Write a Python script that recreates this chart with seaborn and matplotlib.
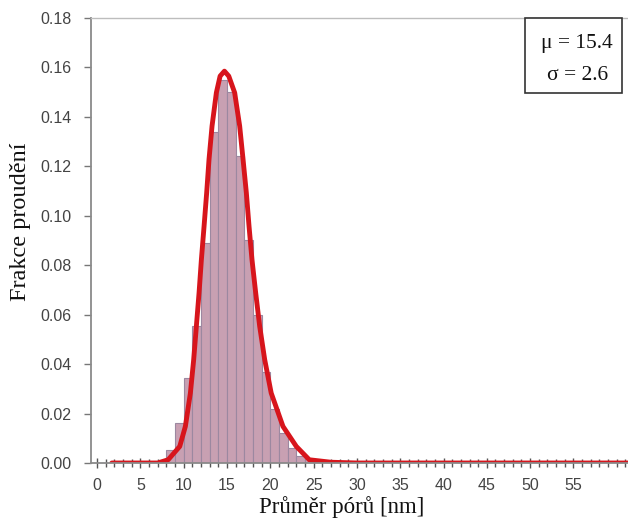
import numpy as np
import pandas as pd
import matplotlib
matplotlib.use("Agg")
import matplotlib.pyplot as plt
import seaborn as sns
from matplotlib.patches import Rectangle
from matplotlib.ticker import MultipleLocator

# ---- data ----
# histogram bins (left edge of each 1 nm bin) and flow fraction
bin_left = [8, 9, 10, 11, 12, 13, 14, 15, 16, 17, 18, 19, 20, 21, 22, 23, 24, 25, 26, 27]
fractions = [0.0054, 0.0162, 0.0344, 0.0553, 0.089, 0.134, 0.155, 0.150, 0.124, 0.090,
             0.060, 0.037, 0.022, 0.012, 0.006, 0.003, 0.0015, 0.0008, 0.0004, 0.0003]

# fitted distribution curve
fit_x = [1.7, 7.0, 8.2, 9.54, 10.19, 10.77, 11.15, 11.46, 11.77, 12.04, 12.35, 12.65,
         12.92, 13.27, 13.77, 14.2, 14.7, 15.2, 15.88, 16.46, 16.85, 17.23, 17.54, 17.88,
         18.31, 18.77, 19.35, 20.1, 21.46, 23.0, 24.5, 27.0, 30.0, 61.3]
fit_y = [0.0, 0.0, 0.0013, 0.0067, 0.0148, 0.0283, 0.0418, 0.0553, 0.0688, 0.0823,
         0.0958, 0.1093, 0.1228, 0.1363, 0.1498, 0.1565, 0.1585, 0.1565, 0.1498, 0.1363,
         0.1228, 0.1093, 0.0958, 0.0823, 0.0688, 0.0553, 0.0418, 0.0283, 0.0148, 0.0067,
         0.0013, 0.0003, 0.0, 0.0]

y_ticks = [0.00, 0.02, 0.04, 0.06, 0.08, 0.10, 0.12, 0.14, 0.16, 0.18]
x_ticks = [0, 5, 10, 15, 20, 25, 30, 35, 40, 45, 50, 55]
stats_text = ["\u03bc = 15.4", "\u03c3 = 2.6"]
xlabel = "Průměr pórů [nm]"
ylabel = "Frakce proudění"

# ---- style ----
sns.set_theme(style="white")
plt.rcParams["font.family"] = ["Liberation Sans", "DejaVu Sans"]
serif = ["Liberation Serif", "DejaVu Serif"]

fig = plt.figure(figsize=(6.28, 5.26), dpi=100)
ax = fig.add_axes([0.145, 0.1198, 0.855, 0.846])

centers = np.array(bin_left, dtype=float) + 0.5
df_bars = pd.DataFrame({"d": centers, "f": fractions})
sns.histplot(data=df_bars, x="d", weights="f", binwidth=1.0,
             binrange=(bin_left[0], bin_left[-1] + 1), stat="count",
             element="bars", fill=True, color="#c8a0b2", alpha=1.0,
             edgecolor="#9c88a0", linewidth=0.8, shrink=1.0, ax=ax)

df_fit = pd.DataFrame({"x": fit_x, "y": fit_y})
sns.lineplot(data=df_fit, x="x", y="y", color="#d7151c", linewidth=3.5, ax=ax,
             solid_capstyle="round", solid_joinstyle="round")

ax.set_xlim(-0.7, 61.3)
ax.set_ylim(0, 0.18)
ax.set_xticks(x_ticks)
ax.set_xticklabels([str(t) for t in x_ticks])
ax.xaxis.set_minor_locator(MultipleLocator(1))
ax.set_yticks(y_ticks)
ax.set_yticklabels([f"{t:.2f}" for t in y_ticks])

spine_c = "#8a8a8a"
for s in ["left", "bottom"]:
    ax.spines[s].set_color(spine_c)
    ax.spines[s].set_linewidth(1.3)
ax.spines["top"].set_color("#bdbdbd")
ax.spines["top"].set_linewidth(1.0)
ax.spines["right"].set_visible(False)

ax.tick_params(axis="x", which="major", direction="inout", length=7, width=1.0,
               color="#555555", labelsize=11.5, labelcolor="#444444", pad=7, bottom=True)
ax.tick_params(axis="x", which="minor", direction="inout", length=6, width=1.0,
               color="#555555", bottom=True)
ax.tick_params(axis="y", which="major", direction="out", length=5, width=1.0,
               color="#777777", labelsize=11.5, labelcolor="#444444", pad=9, left=True)

ax.set_xlabel(xlabel, family=serif, fontsize=16.5, color="#111111")
ax.set_ylabel(ylabel, family=serif, fontsize=17.5, color="#111111")
ax.xaxis.set_label_coords(0.466, -0.074)
ax.yaxis.set_label_coords(-0.112, 0.542)

# stats box
box = Rectangle((0.836, 0.823), 0.154, 0.143, transform=fig.transFigure,
                facecolor="white", edgecolor="#333333", linewidth=1.2, zorder=5)
fig.patches.append(box)
fig.text(0.919, 0.918, stats_text[0], ha="center", va="center",
         family=serif, fontsize=15.5, color="#111111", zorder=6)
fig.text(0.919, 0.857, stats_text[1], ha="center", va="center",
         family=serif, fontsize=15.5, color="#111111", zorder=6)

fig.savefig("out.png", dpi=100)
